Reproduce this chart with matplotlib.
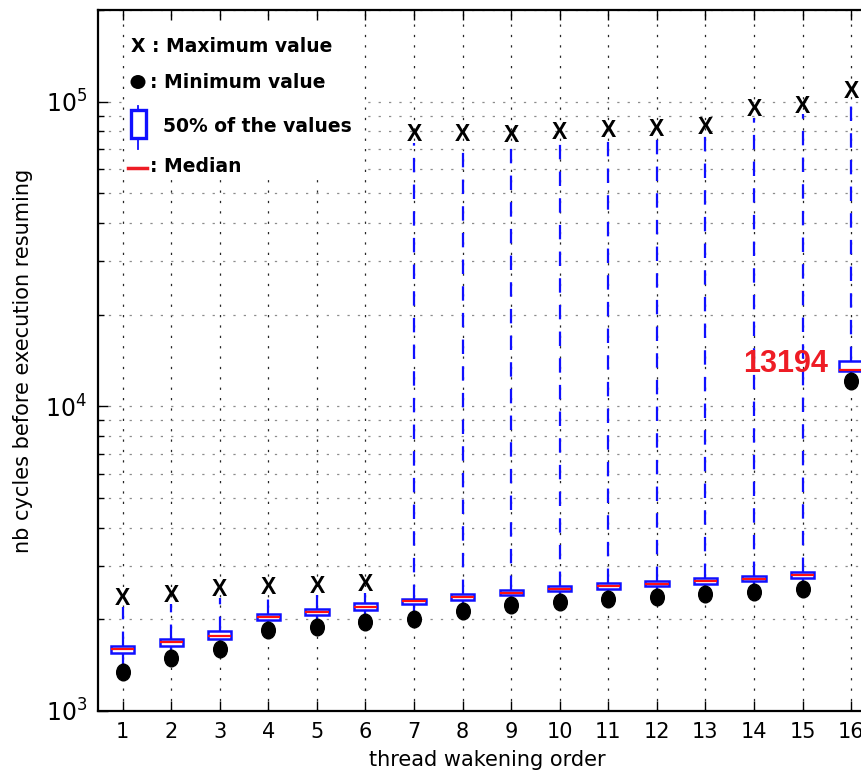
import matplotlib
matplotlib.use('Agg')
import matplotlib.pyplot as plt
from matplotlib.patches import Rectangle, Ellipse
from matplotlib.lines import Line2D
from matplotlib.path import Path

# ---------------- data ----------------
threads = list(range(1, 17))
tick_labels = [str(t) for t in threads]
medians = [1600, 1690, 1768, 2040, 2114, 2196, 2293, 2369, 2447, 2522, 2574, 2620, 2667, 2720, 2792, 13194]
q1s = [1554, 1636, 1724, 1991, 2062, 2147, 2241, 2321, 2405, 2473, 2522, 2568, 2614, 2673, 2729, 13100]
q3s = [1638, 1728, 1827, 2087, 2163, 2258, 2333, 2417, 2497, 2580, 2634, 2673, 2729, 2777, 2862, 14040]
minimums = [1340, 1490, 1599, 1845, 1884, 1956, 2001, 2136, 2229, 2276, 2328, 2363, 2423, 2454, 2511, 12070]
maximums = [2196, 2246, 2351, 2387, 2411, 2442, 73400, 73400, 73000, 74600, 75300, 75900, 77300, 88700, 90800, 101700]
annot_value = "13194"
annot_thread = 16

W, H = 862, 776
fig = plt.figure(figsize=(W / 100, H / 100), dpi=100)
fig.patch.set_facecolor('white')

ax_left, ax_bottom = 98.4 / W, (H - 711) / H
ax = fig.add_axes([ax_left, ax_bottom, 777 / W, 701 / H])

stats = []
for t, med, a, b, lo, hi in zip(threads, medians, q1s, q3s, minimums, maximums):
    stats.append(dict(med=med, q1=a, q3=b, whislo=lo, whishi=hi, fliers=[], label=str(t)))

ax.bxp(stats, positions=threads, widths=0.48, showcaps=False, showfliers=False,
       patch_artist=True,
       boxprops=dict(facecolor='white', edgecolor='#1010ff', linewidth=1.8),
       medianprops=dict(color='#ff1010', linewidth=1.6),
       whiskerprops=dict(color='#1010ff', linewidth=1.6, dashes=(6.5, 5.5)),
       manage_ticks=False, zorder=3)

# minimum markers (slightly tall ellipse)
ell = Path(Path.unit_circle().vertices * [0.82, 1.0], Path.unit_circle().codes)
ax.plot(threads, minimums, linestyle='none', marker=ell, markersize=12,
        color='black', zorder=4)

# maximum markers drawn as letter X
for t, mx in zip(threads, maximums):
    ax.annotate('X', xy=(t, mx), xytext=(0, 6), textcoords='offset points',
                ha='center', va='center', fontsize=16.5, fontweight='bold',
                family='Liberation Sans', color='black', zorder=5,
                annotation_clip=False)

ax.set_yscale('log')
ax.set_ylim(1000, 2.0e5)
ax.set_xlim(0.5, 16.5)
ax.set_xticks(threads)
ax.set_xticklabels(tick_labels)

ax.tick_params(which='both', direction='in', top=True, right=True, width=1)
ax.tick_params(which='major', length=7)
ax.tick_params(which='minor', length=4)
ax.tick_params(axis='x', labelsize=15, pad=8)
ax.tick_params(axis='y', labelsize=17, pad=8)
for s in ax.spines.values():
    s.set_linewidth(1.6)

ax.grid(True, which='major', axis='x', color='0.15', linestyle=(0, (1.8, 6.5)), linewidth=0.9)
ax.grid(True, which='both', axis='y', color='0.55', linestyle=(0, (1.8, 6.5)), linewidth=0.9)
ax.set_axisbelow(True)

ax.set_xlabel('thread wakening order', fontsize=15)
ax.set_ylabel('nb cycles before execution resuming', fontsize=15)
ax.xaxis.set_label_coords(0.5, -0.055)
ax.yaxis.set_label_coords(-0.084, 0.5)

# annotation of the last median
ax.annotate(annot_value, xy=(annot_thread, medians[annot_thread - 1]), xytext=(-17, 4),
            textcoords='offset points', ha='right', va='center',
            fontsize=22, fontweight='bold', family='Liberation Sans',
            color='#ee1c25', zorder=6)

# ---------------- legend block (pixel-positioned) ----------------
def fx(x):
    return x / W

def fy(y):
    return 1 - y / H

tf = fig.transFigure
fig.patches.append(Rectangle((fx(126), fy(178)), fx(362) - fx(126), fy(24) - fy(178),
                             transform=tf, facecolor='white', edgecolor='none', zorder=2))

lfont = dict(fontsize=13.5, fontweight='bold', family='DejaVu Sans', va='center',
             ha='left', transform=tf, zorder=3)
fig.text(fx(131), fy(47), 'X : Maximum value', **lfont)
fig.patches.append(Ellipse((fx(138), fy(82)), fx(15), 14 / H, transform=tf,
                           facecolor='black', edgecolor='none', zorder=3))
fig.text(fx(150), fy(82), ': Minimum value', **lfont)
fig.lines.append(Line2D([fx(138.5), fx(138.5)], [fy(106), fy(149)], transform=tf,
                        color='#1010ff', linewidth=1.3, zorder=3))
fig.patches.append(Rectangle((fx(131), fy(138)), fx(15), 28 / H, transform=tf,
                             facecolor='white', edgecolor='#1010ff', linewidth=2.4, zorder=4))
fig.text(fx(163), fy(127), '50% of the values', **lfont)
fig.lines.append(Line2D([fx(128), fx(147)], [fy(168), fy(168)], transform=tf,
                        color='#ee1c25', linewidth=2.5, zorder=3))
fig.text(fx(150), fy(166), ': Median', **lfont)

fig.savefig('out.png', dpi=100, facecolor='white')
